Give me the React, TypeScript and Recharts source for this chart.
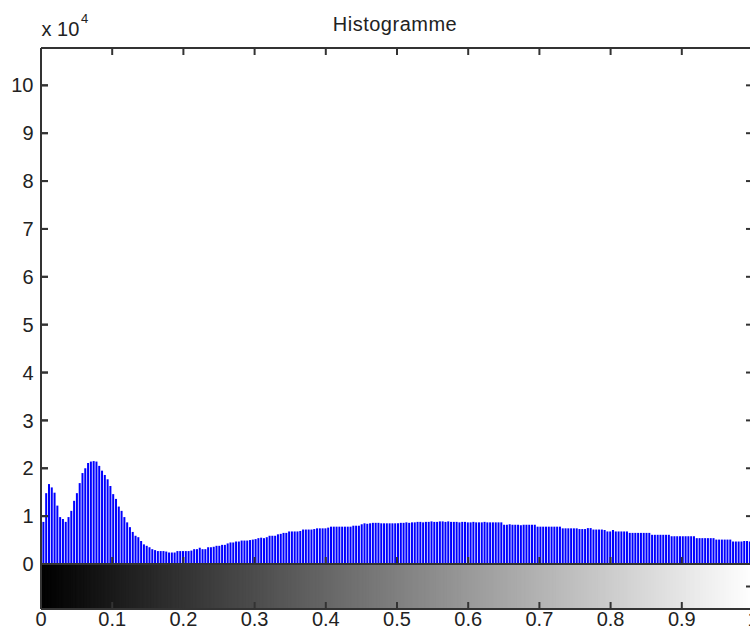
import React from 'react';
import { ComposedChart, Bar, Cell, XAxis, YAxis } from 'recharts';

// Histogram counts for the 256 gray levels (bin i sits at i/255)
const counts = [
  1900, 8800, 14800, 16700, 16000, 14900, 12200, 9800, 9400, 8800, 9800, 11100, 13200, 14800, 16900, 19000,
  20000, 21100, 21400, 21500, 21400, 20500, 19500, 18600, 17700, 16300, 14600, 13600, 12000, 11100, 9800, 8700,
  7700, 6700, 5900, 5600, 4800, 4100, 3800, 3500, 3100, 2900, 2700, 2700, 2700, 2600, 2400, 2400,
  2400, 2700, 2700, 2700, 2700, 2700, 2800, 3100, 3100, 3400, 3100, 3100, 3500, 3500, 3600, 3800,
  3800, 4000, 4000, 4300, 4500, 4500, 4700, 4700, 4900, 4900, 4900, 5000, 5100, 5200, 5400, 5500,
  5400, 5600, 5900, 5900, 5900, 6200, 6300, 6500, 6500, 6800, 6800, 6800, 6800, 6900, 7200, 7200,
  7200, 7200, 7300, 7450, 7450, 7450, 7450, 7600, 7800, 7800, 7800, 7800, 7800, 7800, 7800, 7800,
  8000, 8000, 8000, 8300, 8500, 8400, 8500, 8600, 8600, 8600, 8500, 8500, 8500, 8500, 8500, 8500,
  8500, 8600, 8600, 8700, 8600, 8700, 8700, 8800, 8800, 8700, 8800, 8800, 8900, 8800, 8800, 8900,
  8900, 8800, 8900, 8800, 8800, 8800, 8700, 8800, 8800, 8700, 8700, 8800, 8700, 8700, 8700, 8800,
  8700, 8700, 8700, 8700, 8700, 8700, 8200, 8200, 8300, 8200, 8200, 8200, 8100, 8200, 8200, 8200,
  8200, 8200, 7800, 7800, 7800, 7800, 7800, 7800, 7800, 7800, 7800, 7450, 7450, 7450, 7450, 7450,
  7450, 7300, 7300, 7300, 7500, 7500, 7200, 7200, 7200, 7200, 7100, 6800, 6800, 7100, 6800, 6800,
  6800, 6800, 6800, 6500, 6500, 6500, 6500, 6500, 6500, 6500, 6500, 6100, 6100, 6100, 6100, 6100,
  6100, 6100, 5800, 5800, 5800, 5800, 5800, 5800, 5800, 5800, 5800, 5400, 5400, 5400, 5400, 5400,
  5400, 5400, 5100, 5100, 5100, 5100, 5100, 5100, 4700, 4700, 4700, 4700, 4800, 4800, 4700, 4700,
];
const levelCount = 256;
const xTicks = [0, 0.1, 0.2, 0.3, 0.4, 0.5, 0.6, 0.7, 0.8, 0.9, 1];
const yTicks = [0, 10000, 20000, 30000, 40000, 50000, 60000, 70000, 80000, 90000, 100000];
const yMax = 107800;
const colorbarTicks = [0.5];

const histData = counts.map((c, i) => ({ level: i / (levelCount - 1), count: c }));
// colorbar: one full-height cell per gray level
const cbData = counts.map((_, i) => ({ level: i / (levelCount - 1), full: 1 }));
const grayOf = (i: number) => `rgb(${i},${i},${i})`;

const W = 760;
const H = 637;
const AX = '#333333';
const TXT = '#222222';
const FONT = '"Liberation Sans", Arial, Helvetica, sans-serif';
const TL = 7; // tick length (inward)
const lineStyle = { stroke: AX, strokeWidth: 2 };

// histogram plot box (margins)
const HM = { top: 48, right: 7, bottom: 73, left: 41 };
const HIST_H = H - HM.top - HM.bottom;
// colorbar plot box (margins)
const CM = { top: 564, right: 7, bottom: 28, left: 41 };

const num = (v: any) => Number(v);

const LeftTick = (p: any) => {
  const tx = num(p.x);
  const ty = num(p.y);
  const ax = tx + 7.5;
  return (
    <g>
      <path d={`M${ax},${ty}H${ax + TL}`} stroke={AX} strokeWidth={2} fill="none" />
      <text x={tx} y={ty} dy="0.355em" textAnchor="end" fill={TXT} fontSize={20} fontFamily={FONT}>
        {String(Math.round(p.payload.value / 10000))}
      </text>
    </g>
  );
};
const RightTick = (p: any) => {
  const tx = num(p.x);
  const ty = num(p.y);
  return <path d={`M${tx - TL},${ty}H${tx}`} stroke={AX} strokeWidth={2} fill="none" />;
};
// inward tick for an axis sitting on the left edge (drawn from a right-oriented axis)
const InwardTick = (p: any) => {
  const tx = num(p.x);
  const ty = num(p.y);
  return <path d={`M${tx},${ty}H${tx + TL}`} stroke={AX} strokeWidth={2} fill="none" />;
};
const TopTick = (p: any) => {
  const tx = num(p.x);
  const ty = num(p.y);
  const len = p.payload && p.payload.value === 0 ? HIST_H : TL; // value 0 tick carries the left edge
  return <path d={`M${tx},${ty}V${ty + len}`} stroke={AX} strokeWidth={2} fill="none" />;
};
const BottomTick = (p: any) => {
  const tx = num(p.x);
  const ty = num(p.y);
  return <path d={`M${tx},${ty}V${ty - TL}`} stroke={AX} strokeWidth={2} fill="none" />;
};
const BottomLabelTick = (p: any) => {
  const tx = num(p.x);
  const ty = num(p.y);
  return (
    <g>
      <path d={`M${tx},${ty - 3}V${ty - 3 - TL}`} stroke={AX} strokeWidth={2} fill="none" />
      <text x={tx} y={ty} dy="0.71em" textAnchor="middle" fill={TXT} fontSize={20} fontFamily={FONT}>
        {String(p.payload.value)}
      </text>
    </g>
  );
};

const layer: React.CSSProperties = { position: 'absolute', left: 0, top: 0, pointerEvents: 'none' };

export default function App() {
  return (
    <div
      style={{
        position: 'absolute',
        left: 0,
        top: 0,
        width: 750,
        height: 637,
        overflow: 'hidden',
        background: '#ffffff',
        fontFamily: FONT,
      }}
    >
      {/* Title and exponent label */}
      <div
        style={{
          position: 'absolute',
          left: 295,
          top: 13.8,
          width: 200,
          textAlign: 'center',
          fontSize: 20,
          lineHeight: '20px',
          color: TXT,
          letterSpacing: 0.5,
          whiteSpace: 'nowrap',
        }}
      >
        Histogramme
      </div>
      <div
        style={{
          position: 'absolute',
          left: 41.5,
          top: 19,
          fontSize: 20,
          lineHeight: '20px',
          color: TXT,
          whiteSpace: 'pre',
        }}
      >
        x 10
      </div>
      <div
        style={{
          position: 'absolute',
          left: 81,
          top: 11.7,
          fontSize: 13,
          lineHeight: '13px',
          color: TXT,
          whiteSpace: 'pre',
        }}
      >
        4
      </div>

      {/* 1. colorbar cells */}
      <div style={layer}>
        <ComposedChart width={W} height={H} data={cbData} barCategoryGap={0} margin={CM}>
          <XAxis xAxisId="b" type="number" dataKey="level" domain={[0, 1]} hide allowDataOverflow />
          <YAxis yAxisId="l" type="number" domain={[0, 1]} hide allowDataOverflow />
          <Bar xAxisId="b" yAxisId="l" dataKey="full" isAnimationActive={false}>
            {cbData.map((_, i) => (
              <Cell key={i} fill={grayOf(i)} stroke={grayOf(i)} strokeWidth={1} />
            ))}
          </Bar>
        </ComposedChart>
      </div>

      {/* 2. histogram bars */}
      <div style={layer}>
        <ComposedChart width={W} height={H} data={histData} margin={HM}>
          <XAxis xAxisId="b" type="number" dataKey="level" domain={[0, 1]} hide allowDataOverflow />
          <YAxis yAxisId="l" type="number" domain={[0, yMax]} hide allowDataOverflow />
          <Bar xAxisId="b" yAxisId="l" dataKey="count" fill="#0000ff" barSize={2} isAnimationActive={false} />
        </ComposedChart>
      </div>

      {/* 3. colorbar axes box with labels */}
      <div style={layer}>
        <ComposedChart
          width={W}
          height={H}
          data={cbData}
          margin={{ top: CM.top - 1, right: CM.right - 1, bottom: 0, left: 0 }}
        >
          <XAxis
            xAxisId="b"
            type="number"
            dataKey="level"
            domain={[0, 1]}
            ticks={xTicks}
            interval={0}
            orientation="bottom"
            height={CM.bottom}
            tickSize={0}
            tickMargin={3}
            tickLine={false}
            tick={BottomLabelTick}
            axisLine={lineStyle}
            allowDataOverflow
          />
          <XAxis
            xAxisId="t"
            type="number"
            dataKey="level"
            domain={[0, 1]}
            ticks={xTicks}
            orientation="top"
            height={1}
            tick={false}
            tickLine={false}
            axisLine={lineStyle}
            allowDataOverflow
          />
          <YAxis
            yAxisId="l"
            type="number"
            domain={[0, 1]}
            ticks={colorbarTicks}
            width={CM.left}
            tick={false}
            tickLine={false}
            axisLine={lineStyle}
            allowDataOverflow
          />
          <YAxis
            yAxisId="r"
            type="number"
            orientation="right"
            domain={[0, 1]}
            ticks={colorbarTicks}
            width={1}
            tickSize={0}
            tickMargin={0}
            tickLine={false}
            tick={RightTick}
            axisLine={lineStyle}
            allowDataOverflow
          />
        </ComposedChart>
      </div>

      {/* 4. histogram axes box */}
      <div style={layer}>
        <ComposedChart
          width={W}
          height={H}
          data={histData}
          margin={{ top: HM.top - 1, right: HM.right - 1, bottom: HM.bottom - 1, left: 0 }}
        >
          <XAxis
            xAxisId="b"
            type="number"
            dataKey="level"
            domain={[0, 1]}
            ticks={xTicks}
            interval={0}
            orientation="bottom"
            height={1}
            tickSize={0}
            tickMargin={0}
            tickLine={false}
            tick={BottomTick}
            axisLine={lineStyle}
            allowDataOverflow
          />
          <XAxis
            xAxisId="t"
            type="number"
            dataKey="level"
            domain={[0, 1]}
            ticks={xTicks}
            interval={0}
            orientation="top"
            height={1}
            tickSize={0}
            tickMargin={0}
            tickLine={false}
            tick={TopTick}
            axisLine={lineStyle}
            allowDataOverflow
          />
          <YAxis
            yAxisId="l"
            type="number"
            domain={[0, yMax]}
            ticks={yTicks}
            interval={0}
            width={HM.left}
            tickSize={0}
            tickMargin={7.5}
            tickLine={false}
            tick={LeftTick}
            axisLine={lineStyle}
            allowDataOverflow
          />
          <YAxis
            yAxisId="r"
            type="number"
            orientation="right"
            domain={[0, yMax]}
            ticks={yTicks}
            interval={0}
            width={1}
            tickSize={0}
            tickMargin={0}
            tickLine={false}
            tick={RightTick}
            axisLine={lineStyle}
            allowDataOverflow
          />
        </ComposedChart>
      </div>

      {/* 5. left edge of the histogram box with its inward ticks */}
      <div style={layer}>
        <ComposedChart
          width={60}
          height={H}
          data={histData}
          margin={{ top: HM.top, right: 12, bottom: HM.bottom, left: 0 }}
        >
          <XAxis xAxisId="b" type="number" dataKey="level" domain={[0, 1]} hide allowDataOverflow />
          <YAxis
            yAxisId="e"
            type="number"
            orientation="right"
            domain={[0, yMax]}
            ticks={yTicks}
            interval={0}
            width={7}
            tickSize={0}
            tickMargin={0}
            tickLine={false}
            tick={InwardTick}
            axisLine={lineStyle}
            allowDataOverflow
          />
        </ComposedChart>
      </div>
    </div>
  );
}
